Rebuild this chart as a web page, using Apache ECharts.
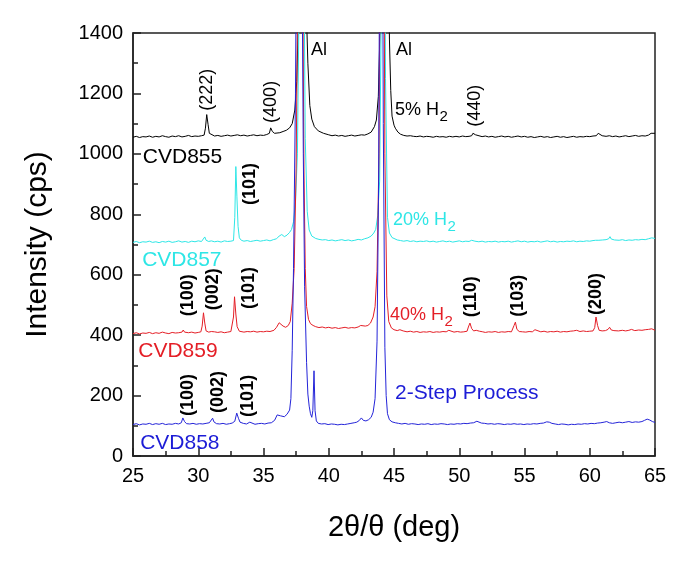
<!DOCTYPE html>
<html><head><meta charset="utf-8">
<script src="https://cdn.jsdelivr.net/npm/echarts@6/dist/echarts.min.js"></script>
<style>html,body{margin:0;padding:0;background:#fff}#c{width:685px;height:564px}</style>
</head><body><div id="c"></div>
<script>
// ---- data (2theta deg, intensity cps) ----
const cvd855 = [[25.0,1055],[25.25,1058],[25.5,1054],[25.75,1057],[26.0,1056],[26.25,1059],[26.5,1055],[26.75,1058],[27.0,1056],[27.25,1060],[27.5,1057],[27.75,1055],[28.0,1059],[28.25,1057],[28.5,1060],[28.75,1056],[29.0,1058],[29.25,1061],[29.5,1057],[29.75,1059],[30.0,1058],[30.25,1060],[30.45,1062],[30.55,1085],[30.65,1130],[30.75,1098],[30.85,1068],[31.0,1062],[31.25,1059],[31.5,1061],[31.75,1058],[32.0,1060],[32.25,1062],[32.5,1059],[32.75,1061],[33.0,1063],[33.25,1060],[33.5,1062],[33.75,1059],[34.0,1061],[34.25,1063],[34.5,1060],[34.75,1062],[35.0,1061],[35.25,1064],[35.45,1068],[35.55,1086],[35.68,1074],[35.85,1068],[36.0,1072],[36.25,1070],[36.5,1074],[36.75,1078],[37.0,1086],[37.2,1100],[37.4,1145],[37.55,1240],[37.7,1500],[37.85,2000],[38.0,2300],[38.15,1900],[38.3,1450],[38.4,1300],[38.55,1160],[38.7,1115],[38.9,1090],[39.2,1076],[39.6,1068],[40.0,1063],[40.25,1060],[40.5,1062],[40.75,1059],[41.0,1061],[41.25,1058],[41.5,1060],[41.75,1062],[42.0,1059],[42.25,1061],[42.5,1063],[42.75,1062],[43.0,1066],[43.25,1072],[43.5,1090],[43.65,1112],[43.8,1190],[43.95,1450],[44.1,2000],[44.3,2300],[44.5,1900],[44.65,1380],[44.75,1210],[44.85,1125],[45.0,1095],[45.1,1085],[45.3,1072],[45.5,1065],[45.75,1061],[46.0,1059],[46.25,1060],[46.5,1058],[46.75,1057],[47.0,1059],[47.25,1056],[47.5,1058],[47.75,1057],[48.0,1055],[48.25,1058],[48.5,1056],[48.75,1057],[49.0,1055],[49.25,1058],[49.5,1056],[49.75,1058],[50.0,1056],[50.25,1059],[50.5,1057],[50.75,1058],[50.95,1060],[51.05,1068],[51.15,1071],[51.25,1063],[51.4,1058],[51.75,1057],[52.0,1059],[52.25,1056],[52.5,1058],[52.75,1055],[53.0,1057],[53.25,1059],[53.5,1056],[53.75,1058],[54.0,1055],[54.25,1057],[54.5,1059],[54.75,1056],[55.0,1058],[55.25,1055],[55.5,1057],[55.75,1054],[56.0,1056],[56.25,1058],[56.5,1055],[56.75,1057],[57.0,1054],[57.25,1056],[57.5,1058],[57.75,1055],[58.0,1057],[58.25,1054],[58.5,1056],[58.75,1058],[59.0,1055],[59.25,1057],[59.5,1056],[59.75,1058],[60.0,1057],[60.25,1059],[60.5,1060],[60.65,1068],[60.8,1065],[60.95,1060],[61.25,1058],[61.5,1060],[61.75,1057],[62.0,1059],[62.25,1056],[62.5,1058],[62.75,1060],[63.0,1057],[63.25,1059],[63.5,1061],[63.75,1058],[64.0,1060],[64.25,1059],[64.5,1062],[64.7,1068],[64.85,1073],[65.0,1068]];

const cvd857 = [[25.0,707],[25.25,710],[25.5,706],[25.75,709],[26.0,708],[26.25,711],[26.5,707],[26.75,709],[27.0,706],[27.25,710],[27.5,708],[27.75,711],[28.0,707],[28.25,709],[28.5,712],[28.75,708],[29.0,710],[29.25,707],[29.5,711],[29.75,709],[30.0,712],[30.25,710],[30.4,715],[30.5,725],[30.6,714],[30.8,710],[31.0,712],[31.25,709],[31.5,711],[31.75,708],[32.0,712],[32.25,710],[32.5,711],[32.7,713],[32.8,790],[32.88,958],[32.96,860],[33.05,760],[33.15,722],[33.3,714],[33.5,711],[33.75,713],[34.0,710],[34.25,712],[34.5,714],[34.75,711],[35.0,713],[35.25,715],[35.5,712],[35.75,716],[36.0,719],[36.2,728],[36.4,733],[36.6,726],[36.8,731],[37.0,740],[37.15,750],[37.3,775],[37.45,840],[37.6,1000],[37.75,1600],[37.9,2600],[38.05,1900],[38.2,1050],[38.35,810],[38.5,748],[38.7,728],[39.0,720],[39.25,717],[39.5,715],[39.75,716],[40.0,713],[40.25,715],[40.5,712],[40.75,714],[41.0,716],[41.25,713],[41.5,715],[41.75,712],[42.0,714],[42.25,717],[42.5,715],[42.75,719],[43.0,722],[43.25,728],[43.45,738],[43.6,750],[43.75,795],[43.9,910],[44.05,1600],[44.2,2600],[44.35,1250],[44.5,790],[44.65,738],[44.85,723],[45.0,718],[45.25,715],[45.5,713],[45.75,711],[46.0,713],[46.25,710],[46.5,712],[46.75,709],[47.0,711],[47.25,710],[47.5,712],[47.75,709],[48.0,711],[48.25,708],[48.5,710],[48.75,712],[49.0,709],[49.25,711],[49.5,708],[49.75,710],[50.0,712],[50.25,709],[50.5,711],[50.75,710],[50.95,714],[51.05,718],[51.2,711],[51.5,709],[51.75,711],[52.0,708],[52.25,710],[52.5,709],[52.75,711],[53.0,708],[53.25,710],[53.5,709],[53.75,711],[54.0,708],[54.25,710],[54.5,712],[54.75,709],[55.0,711],[55.25,708],[55.5,710],[55.75,709],[56.0,711],[56.25,708],[56.5,710],[56.75,712],[57.0,709],[57.25,711],[57.5,708],[57.75,710],[58.0,709],[58.25,711],[58.5,710],[58.75,712],[59.0,709],[59.25,711],[59.5,710],[59.75,712],[60.0,711],[60.25,713],[60.45,714],[60.55,720],[60.7,714],[61.0,715],[61.25,716],[61.45,719],[61.55,726],[61.65,718],[61.9,715],[62.25,714],[62.5,716],[62.75,713],[63.0,715],[63.25,714],[63.5,716],[63.75,715],[64.0,717],[64.25,716],[64.5,719],[64.75,722],[65.0,720]];

const cvd859 = [[25.0,405],[25.25,408],[25.5,404],[25.75,407],[26.0,406],[26.25,409],[26.5,405],[26.75,408],[27.0,406],[27.25,410],[27.5,407],[27.75,405],[28.0,409],[28.25,407],[28.5,408],[28.75,410],[28.85,417],[28.95,410],[29.25,408],[29.5,410],[29.75,407],[30.0,409],[30.2,411],[30.3,430],[30.4,474],[30.5,440],[30.6,414],[30.8,410],[31.0,412],[31.1,417],[31.25,411],[31.5,409],[31.75,411],[32.0,408],[32.25,410],[32.5,412],[32.62,414],[32.7,460],[32.78,527],[32.88,470],[32.98,428],[33.15,413],[33.5,410],[33.75,412],[34.0,411],[34.25,413],[34.5,410],[34.75,412],[35.0,411],[35.25,413],[35.5,412],[35.8,416],[36.0,426],[36.2,441],[36.35,438],[36.5,430],[36.7,426],[36.9,432],[37.05,445],[37.2,506],[37.35,620],[37.5,950],[37.65,1700],[37.8,2800],[37.95,2000],[38.1,950],[38.2,620],[38.3,495],[38.45,452],[38.6,438],[38.8,432],[39.0,428],[39.25,425],[39.5,427],[39.75,424],[40.0,426],[40.25,423],[40.5,425],[40.75,422],[41.0,424],[41.25,426],[41.5,423],[41.75,425],[42.0,424],[42.25,427],[42.45,432],[42.6,428],[42.8,430],[43.0,432],[43.2,440],[43.4,460],[43.55,494],[43.7,610],[43.85,1000],[44.0,2200],[44.15,2600],[44.3,1000],[44.45,530],[44.6,445],[44.8,424],[45.0,418],[45.25,415],[45.45,418],[45.55,424],[45.7,414],[46.0,411],[46.25,413],[46.5,410],[46.75,412],[47.0,409],[47.25,411],[47.5,410],[47.75,412],[48.0,409],[48.25,411],[48.5,410],[48.75,412],[49.0,411],[49.2,416],[49.35,411],[49.6,410],[49.85,412],[50.1,410],[50.35,411],[50.6,413],[50.7,427],[50.82,440],[50.95,422],[51.1,414],[51.3,416],[51.4,421],[51.55,413],[51.8,411],[52.0,409],[52.25,411],[52.5,410],[52.75,412],[53.0,409],[53.25,411],[53.5,410],[53.75,412],[54.0,411],[54.12,414],[54.2,432],[54.3,443],[54.42,419],[54.6,412],[54.85,411],[55.1,410],[55.35,412],[55.6,411],[55.8,418],[55.95,412],[56.25,411],[56.5,413],[56.75,410],[57.0,412],[57.25,411],[57.5,413],[57.75,410],[58.0,412],[58.25,411],[58.5,413],[58.75,414],[59.0,416],[59.25,412],[59.5,414],[59.75,412],[60.0,413],[60.25,414],[60.38,425],[60.48,460],[60.6,432],[60.72,416],[60.95,414],[61.2,415],[61.4,419],[61.52,426],[61.65,417],[61.85,415],[62.0,419],[62.2,414],[62.5,416],[62.75,414],[63.0,416],[63.2,419],[63.45,415],[63.75,417],[64.0,416],[64.25,418],[64.5,419],[64.75,421],[65.0,416]];

const cvd858 = [[25.0,104],[25.25,107],[25.5,103],[25.75,106],[26.0,105],[26.25,108],[26.5,104],[26.75,107],[27.0,105],[27.25,108],[27.5,104],[27.75,106],[28.0,105],[28.25,108],[28.5,106],[28.7,110],[28.82,126],[28.95,114],[29.1,107],[29.35,106],[29.6,108],[29.85,105],[30.1,107],[30.35,106],[30.6,108],[30.85,110],[31.0,115],[31.1,125],[31.2,113],[31.4,107],[31.65,106],[31.9,108],[32.15,105],[32.4,107],[32.6,109],[32.8,115],[32.95,142],[33.08,125],[33.2,112],[33.45,108],[33.7,106],[33.95,112],[34.1,107],[34.35,105],[34.6,107],[34.85,108],[35.1,106],[35.35,109],[35.6,110],[35.85,118],[36.05,136],[36.2,139],[36.3,133],[36.45,138],[36.6,130],[36.8,138],[37.0,152],[37.1,190],[37.2,350],[37.3,620],[37.45,1200],[37.6,2200],[37.75,2800],[37.9,2000],[38.05,1000],[38.15,560],[38.3,310],[38.4,205],[38.5,165],[38.6,140],[38.7,128],[38.78,150],[38.87,282],[38.95,150],[39.05,116],[39.2,108],[39.45,106],[39.7,107],[39.95,104],[40.2,106],[40.45,105],[40.7,103],[40.95,105],[41.2,104],[41.45,106],[41.7,108],[41.95,110],[42.15,112],[42.35,118],[42.5,126],[42.65,118],[42.85,116],[43.05,120],[43.25,128],[43.4,145],[43.55,190],[43.7,380],[43.82,900],[43.95,2200],[44.05,2700],[44.18,1100],[44.3,360],[44.4,200],[44.5,140],[44.65,120],[44.85,113],[45.1,110],[45.35,108],[45.6,106],[45.85,108],[46.1,105],[46.35,107],[46.6,106],[46.85,104],[47.1,106],[47.35,105],[47.6,107],[47.85,104],[48.1,106],[48.35,105],[48.6,107],[48.85,106],[49.1,104],[49.35,106],[49.6,105],[49.85,107],[50.1,106],[50.35,108],[50.6,107],[50.85,109],[51.1,110],[51.35,115],[51.5,113],[51.7,109],[51.95,108],[52.2,106],[52.45,107],[52.7,105],[52.95,107],[53.2,106],[53.45,104],[53.7,106],[53.95,105],[54.2,107],[54.45,105],[54.7,106],[54.95,104],[55.2,106],[55.45,105],[55.7,107],[55.95,106],[56.2,108],[56.45,109],[56.7,113],[56.9,112],[57.1,108],[57.35,106],[57.6,104],[57.85,106],[58.1,105],[58.35,103],[58.6,105],[58.85,104],[59.1,106],[59.35,105],[59.6,107],[59.85,106],[60.1,108],[60.35,107],[60.6,109],[60.85,110],[61.1,112],[61.3,114],[61.5,110],[61.75,108],[62.0,110],[62.25,112],[62.5,110],[62.75,112],[63.0,114],[63.25,111],[63.5,113],[63.75,112],[64.0,114],[64.2,118],[64.4,122],[64.6,119],[64.8,114],[65.0,111]];

const xTicks = [25, 30, 35, 40, 45, 50, 55, 60, 65];
const yTicks = [0, 200, 400, 600, 800, 1000, 1200, 1400];

// peak (hkl) labels: [text, x, y(center), bold]
const hklLabels = [
  ['(222)', 30.67, 1212, false], ['(400)', 35.57, 1172, false], ['(440)', 51.2, 1159, false],
  ['(101)', 33.97, 900, true],
  ['(100)', 29.2, 532, true], ['(002)', 31.13, 552, true], ['(101)', 33.9, 556, true],
  ['(110)', 50.9, 527, true], ['(103)', 54.5, 530, true], ['(200)', 60.5, 536, true],
  ['(100)', 29.2, 202, true], ['(002)', 31.5, 212, true], ['(101)', 33.8, 199, true]
];
// horizontal labels: [text, subscript, x(left), y(center), colour, size]
const textLabels = [
  ['Al', '', 38.64, 1344, '#000', 18], ['Al', '', 45.15, 1344, '#000', 18],
  ['5% H', '2', 45.08, 1146, '#000', 18],
  ['CVD855', '', 25.75, 990, '#000', 21],
  ['20% H', '2', 44.92, 781, '#2ee6e6', 18],
  ['CVD857', '', 25.7, 649, '#2ee6e6', 21],
  ['40% H', '2', 44.69, 467, '#e41e26', 18],
  ['CVD859', '', 25.4, 348, '#e41e26', 21],
  ['2-Step Process', '', 45.08, 209, '#1c1cd6', 21],
  ['CVD858', '', 25.55, 43, '#1c1cd6', 21]
];

const FONT = '"Liberation Sans", Arial, sans-serif';
const chart = echarts.init(document.getElementById('c'), null, {renderer: 'canvas'});
const axisCol = '#222';
function mkSeries(name, data, color, z) {
  return {name, type: 'line', data, showSymbol: false, symbol: 'none', clip: true, z,
    lineStyle: {color, width: 1}, itemStyle: {color}, animation: false};
}
chart.setOption({
  animation: false,
  grid: {left: 133, right: 30, top: 33, bottom: 108, show: true, borderColor: axisCol, borderWidth: 1.5, backgroundColor: 'transparent'},
  xAxis: {type: 'value', min: xTicks[0], max: xTicks[xTicks.length - 1], interval: 5,
    name: '2θ/θ (deg)', nameLocation: 'middle', nameGap: 57,
    nameTextStyle: {fontSize: 29, color: '#000', fontFamily: FONT},
    axisLine: {lineStyle: {color: axisCol, width: 1.5}},
    axisTick: {inside: true, length: 8, lineStyle: {color: axisCol, width: 1.5}},
    minorTick: {show: true, splitNumber: 2, length: 5, lineStyle: {color: axisCol, width: 1.5}},
    axisLabel: {fontSize: 20, color: '#000', margin: 10, fontFamily: FONT, formatter: v => String(v)},
    splitLine: {show: false}},
  yAxis: {type: 'value', min: yTicks[0], max: yTicks[yTicks.length - 1], interval: 200,
    name: 'Intensity (cps)', nameLocation: 'middle', nameGap: 80,
    nameTextStyle: {fontSize: 30, color: '#000', fontFamily: FONT},
    axisLine: {show: true, lineStyle: {color: axisCol, width: 1.5}},
    axisTick: {show: true, inside: true, length: 8, lineStyle: {color: axisCol, width: 1.5}},
    minorTick: {show: true, splitNumber: 2, length: 5, lineStyle: {color: axisCol, width: 1.5}},
    axisLabel: {fontSize: 20, color: '#000', margin: 10, fontFamily: FONT, formatter: v => String(v)},
    splitLine: {show: false}},
  series: [
    mkSeries('CVD855', cvd855, '#000000', 2),
    mkSeries('CVD857', cvd857, '#2ee6e6', 3),
    mkSeries('CVD859', cvd859, '#e41e26', 4),
    mkSeries('CVD858', cvd858, '#2424d8', 5)
  ]
});

const ctx = document.createElement('canvas').getContext('2d');
function textW(t, size, weight) { ctx.font = (weight || 'normal') + ' ' + size + 'px ' + FONT; return ctx.measureText(t).width; }
const els = [];
hklLabels.forEach(([t, x, y, bold]) => {
  const p = chart.convertToPixel({gridIndex: 0}, [x, y]);
  els.push({type: 'text', x: p[0], y: p[1], rotation: Math.PI / 2, z: 20,
    style: {text: t, fill: '#000', font: (bold ? 'bold ' : '') + '18px ' + FONT,
      textAlign: 'center', textVerticalAlign: 'middle', align: 'center', verticalAlign: 'middle'}});
});
textLabels.forEach(([t, sub, x, y, col, size]) => {
  const p = chart.convertToPixel({gridIndex: 0}, [x, y]);
  els.push({type: 'text', x: p[0], y: p[1], z: 20,
    style: {text: t, fill: col, font: size + 'px ' + FONT,
      textAlign: 'left', textVerticalAlign: 'middle', align: 'left', verticalAlign: 'middle'}});
  if (sub) {
    const w = textW(t, size);
    els.push({type: 'text', x: p[0] + w + 0.5, y: p[1] + 7, z: 20,
      style: {text: sub, fill: col, font: Math.round(size * 0.85) + 'px ' + FONT,
        textAlign: 'left', textVerticalAlign: 'middle', align: 'left', verticalAlign: 'middle'}});
  }
});
chart.setOption({graphic: {elements: els}});
</script></body></html>
